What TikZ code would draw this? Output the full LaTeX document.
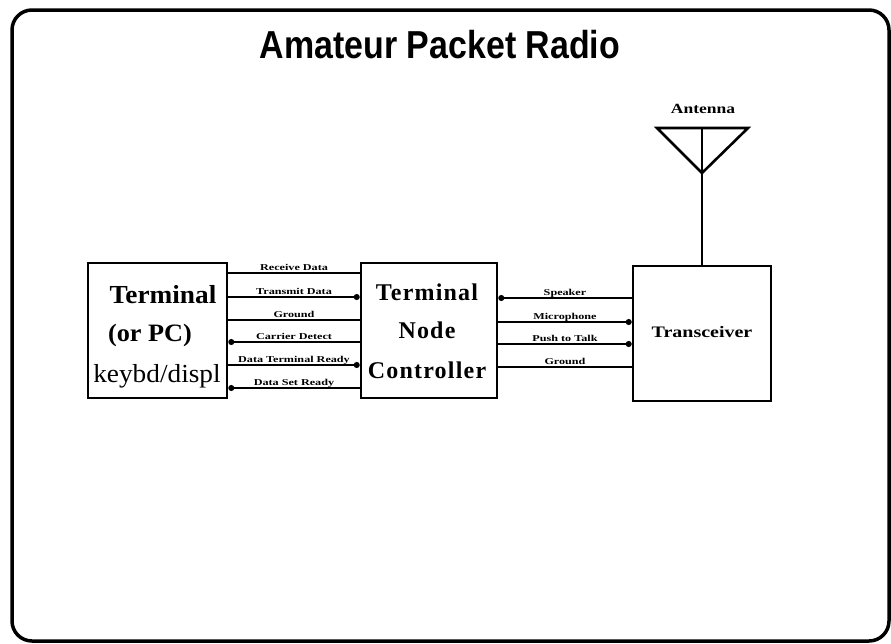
\documentclass[tikz,border=0pt]{standalone}
\usepackage{fontspec}
\setmainfont{Liberation Serif}
\newfontfamily\titlefont[FakeStretch=0.87]{Liberation Sans}
\newfontfamily\wideserif[FakeStretch=1.35]{Liberation Serif}
\newfontfamily\midserif[FakeStretch=1.25]{Liberation Serif}
\newfontfamily\boxserif[LetterSpace=5]{Liberation Serif}
\newfontfamily\termserif[FakeStretch=1.05]{Liberation Serif}
\usetikzlibrary{arrows.meta}
\begin{document}
\begin{tikzpicture}[x=1pt,y=-1pt,
  box/.style={draw, line width=2.6pt, inner sep=0pt},
  txt/.style={anchor=base, inner sep=0pt},
  sig/.style={line width=1.1pt},
  lbl/.style={midway, anchor=base, inner sep=0pt, yshift=2.5pt,
    font=\wideserif\bfseries\fontsize{9}{9}\selectfont},
  dot/.style={-{Circle[length=6pt]}},
  dotstart/.style={{Circle[length=6pt]}-}]
\useasboundingbox (0,0) rectangle (891,643);
\fill[white] (0,0) rectangle (891,643);
% frame
\draw[line width=3.5pt, rounded corners=20pt] (12,10) rectangle (889,641);
% title
\node[txt, font=\titlefont\bfseries\fontsize{39}{39}\selectfont] (title) at (440,58) {Amateur Packet Radio};
% boxes
\node[box, minimum width=139, minimum height=135] (term) at (157.5,330.5) {};
\node[box, minimum width=136, minimum height=135] (tnc) at (429,330.5) {};
\node[box, minimum width=138, minimum height=135] (trx) at (702,333.5) {};
% box texts
\node[txt, font=\termserif\bfseries\fontsize{26}{26}\selectfont] (t1) at (163,303) {Terminal};
\node[txt, font=\termserif\bfseries\fontsize{25}{25}\selectfont] (t2) at (150,341) {(or PC)};
\node[txt, font=\termserif\fontsize{26}{26}\selectfont] (t3) at (157,382) {keybd/displ};
\node[txt, font=\boxserif\bfseries\fontsize{24}{24}\selectfont] (n1) at (427,300) {Terminal};
\node[txt, font=\boxserif\bfseries\fontsize{24}{24}\selectfont] (n2) at (427,338) {Node};
\node[txt, font=\boxserif\bfseries\fontsize{24}{24}\selectfont] (n3) at (427,378) {Controller};
\node[txt, font=\midserif\bfseries\fontsize{16}{16}\selectfont] (x1) at (702,337) {Transceiver};
% antenna
\coordinate (ant) at (702,128);
\coordinate (antL) at (657,128);
\coordinate (antR) at (748,128);
\coordinate (antA) at (702,173);
\draw[line width=2.6pt, line join=miter] (antL) -- (antR) -- (antA) -- cycle;
\draw[line width=2.6pt] (ant) -- (trx.north);
\node[txt, font=\midserif\bfseries\fontsize{14}{14}\selectfont] (antlbl) at (703,113) {Antenna};
% left signal lines
\coordinate (L1) at (0,273);
\coordinate (L2) at (0,297);
\coordinate (L3) at (0,320);
\coordinate (L4) at (0,342);
\coordinate (L5) at (0,365);
\coordinate (L6) at (0,388);
\draw[sig] (term.east |- L1) -- node[lbl] {Receive Data} (tnc.west |- L1);
\draw[sig, dot] (term.east |- L2) -- node[lbl] {Transmit Data} (tnc.west |- L2);
\draw[sig] (term.east |- L3) -- node[lbl] {Ground} (tnc.west |- L3);
\draw[sig, dotstart] (term.east |- L4) -- node[lbl] {Carrier Detect} (tnc.west |- L4);
\draw[sig, dot] (term.east |- L5) -- node[lbl] {Data Terminal Ready} (tnc.west |- L5);
\draw[sig, dotstart] (term.east |- L6) -- node[lbl] {Data Set Ready} (tnc.west |- L6);
% right signal lines
\coordinate (R1) at (0,298);
\coordinate (R2) at (0,322);
\coordinate (R3) at (0,344);
\coordinate (R4) at (0,367);
\draw[sig, dotstart] (tnc.east |- R1) -- node[lbl] {Speaker} (trx.west |- R1);
\draw[sig, dot] (tnc.east |- R2) -- node[lbl] {Microphone} (trx.west |- R2);
\draw[sig, dot] (tnc.east |- R3) -- node[lbl] {Push to Talk} (trx.west |- R3);
\draw[sig] (tnc.east |- R4) -- node[lbl] {Ground} (trx.west |- R4);
\end{tikzpicture}
\end{document}
